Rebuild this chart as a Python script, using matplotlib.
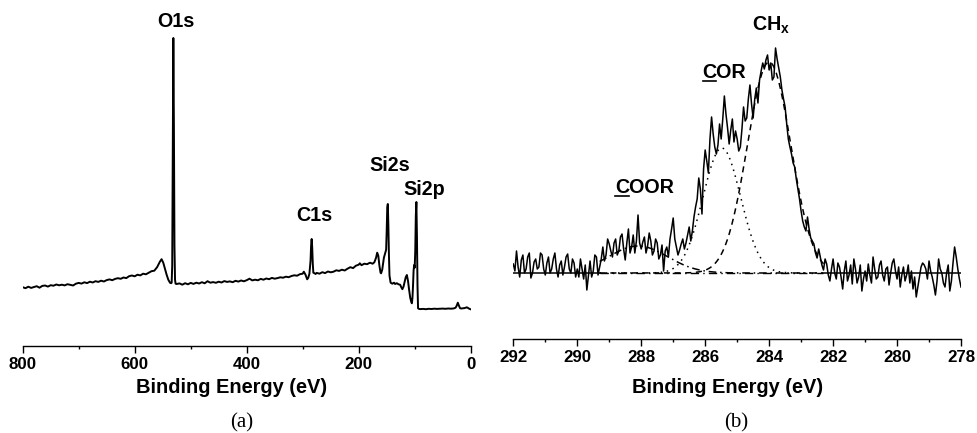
import matplotlib
matplotlib.use('Agg')
import matplotlib.pyplot as plt
import numpy as np
from matplotlib.lines import Line2D
from matplotlib.transforms import IdentityTransform
from matplotlib.font_manager import FontProperties
from matplotlib.ticker import MultipleLocator

plt.rcParams['font.family'] = ['Liberation Sans', 'DejaVu Sans']
plt.rcParams['mathtext.fontset'] = 'custom'
plt.rcParams['mathtext.rm'] = 'Liberation Sans:bold'
plt.rcParams['mathtext.it'] = 'Liberation Sans:bold'
plt.rcParams['mathtext.bf'] = 'Liberation Sans:bold'

# ---------------- (a) survey spectrum ----------------
survey_energy = [
    800, 795, 790, 785, 780, 775, 770, 765, 760, 755, 750, 745, 740, 735, 730, 725, 720, 715, 710, 705,
    700, 695, 690, 685, 680, 675, 670, 665, 660, 655, 650, 645, 640, 635, 630, 625, 620, 615, 610, 605,
    600, 595, 590, 585, 580, 575, 570, 565, 560, 555, 552, 549, 546, 543, 540, 537, 535, 534, 533, 532,
    531, 530, 529, 528, 527, 525,
    520, 515, 510, 505, 500, 495, 490, 485, 480, 475, 470, 465, 460, 455, 450, 445, 440, 435, 430, 425,
    420, 415, 410, 405, 400, 395, 390, 385, 380, 375, 370, 365, 360, 355, 350, 345, 340, 335, 330, 325,
    320, 315, 310, 305, 300, 298, 295, 292, 290, 288, 286, 285, 284, 283, 282, 281, 279, 277,
    275, 270, 265, 260, 255, 250, 245, 240, 235, 230, 225, 220, 215, 210, 205, 200, 198, 195, 190, 185,
    180, 175, 172, 169, 167, 165, 163, 161, 160, 158, 155, 153, 151, 150, 149, 148, 147, 146, 145, 143,
    140, 137, 135, 132, 129, 126, 124, 122, 120, 118, 116, 114, 112, 110, 108, 106, 105, 104, 103, 102,
    101, 100, 99, 98, 97, 96, 95, 94, 92,
    90, 85, 80, 75, 70, 65, 60, 55, 50, 45, 40, 35, 30, 27, 25, 23, 21, 19, 17, 14,
    11, 9, 7, 5.5, 4, 2, 0]
survey_counts = [
    58.5, 57.5, 59.0, 57.8, 58.6, 59.5, 58.0, 59.8, 60.2, 59.1, 60.5, 60.0, 61.2, 60.4, 61.0, 60.3, 61.5, 60.8, 60.2, 62.0,
    62.8, 62.1, 63.4, 62.6, 64.0, 63.2, 64.5, 63.8, 65.0, 64.2, 65.6, 66.3, 65.5, 66.8, 67.5, 66.9, 68.2, 67.6, 69.5, 70.2,
    69.4, 71.0, 70.3, 72.0, 71.4, 73.0, 74.5, 75.0, 78.5, 84.0, 86.5, 83.0, 77.0, 71.0, 66.0, 63.0, 62.5, 63.0, 80.0, 200.0,
    307.7, 220.0, 100.0, 66.0, 62.0, 61.7,
    62.3, 61.0, 62.5, 61.4, 62.8, 61.8, 63.0, 62.2, 63.5, 62.4, 64.5, 63.0, 63.6, 62.9, 64.0, 63.2, 64.6, 63.8, 64.3, 63.5,
    64.9, 64.1, 65.2, 64.4, 65.5, 67.0, 65.3, 66.0, 65.4, 66.8, 66.0, 67.2, 66.5, 67.8, 67.0, 67.6, 68.4, 68.0, 69.0, 68.5,
    69.7, 70.4, 70.0, 71.5, 72.0, 74.0, 71.0, 66.4, 68.0, 72.0, 85.0, 100.0, 106.7, 98.0, 82.0, 73.0, 72.5, 71.7,
    72.8, 72.0, 73.5, 72.6, 74.2, 73.4, 74.0, 75.4, 74.8, 76.0, 75.2, 77.0, 78.5, 77.6, 80.0, 81.0, 82.4, 80.5, 82.0, 81.5,
    83.0, 82.0, 83.5, 88.0, 93.0, 90.0, 80.0, 73.0, 72.4, 76.0, 88.0, 92.0, 96.0, 115.0, 138.0, 141.7, 120.0, 90.0, 70.0, 63.0,
    62.0, 63.0, 61.7, 62.5, 61.4, 61.0, 58.5, 56.5, 59.0, 64.0, 68.5, 70.7, 65.0, 56.0, 48.0, 43.5, 42.4, 48.0, 60.0, 75.0,
    80.7, 78.0, 95.0, 130.0, 143.7, 110.0, 60.0, 37.4, 36.7,
    36.6, 36.8, 36.5, 36.9, 36.7, 37.0, 36.8, 36.9, 37.1, 36.9, 37.2, 37.0, 37.3, 38.0, 40.0, 43.0, 40.0, 37.5, 37.2, 37.4,
    37.6, 38.0, 38.4, 38.0, 37.4, 36.8, 36.4]

survey_ticks = [800, 600, 400, 200, 0]
survey_labels = [('O1s', 526, 319), ('C1s', 280, 125), ('Si2s', 144, 175), ('Si2p', 83, 151)]

# ---------------- (b) C1s high-resolution spectrum ----------------
hr_start = 292.0
hr_step = 0.05
hr_counts = [
    75, 68, 88, 72, 62, 79, 84, 66, 70, 82, 86, 61, 66, 77, 80, 70, 72, 86, 84, 70,
    64, 76, 82, 66, 70, 80, 86, 70, 62, 74, 78, 64, 72, 82, 85, 70, 66, 80, 76, 62,
    70, 62, 80, 70, 60, 74, 49, 64, 78, 62, 68, 84, 82, 64, 72, 80, 92, 78, 84, 100,
    95, 88, 82, 96, 100, 84, 88, 102, 105, 90, 79, 96, 110, 86, 92, 104, 86, 98, 124, 96,
    90, 97, 102, 86, 93, 106, 98, 84, 88, 100, 96, 80, 84, 94, 68, 88, 92, 82, 100, 110,
    121, 100, 92, 84, 89, 95, 100, 90, 96, 104, 112, 98, 108, 122, 132, 140, 161, 150, 125, 170,
    189, 178, 166, 200, 222, 205, 192, 185, 194, 215, 200, 220, 243, 225, 211, 195, 209, 220, 197, 208,
    200, 188, 192, 210, 232, 218, 221, 240, 254, 235, 221, 240, 251, 236, 259, 268, 276, 270, 279, 284,
    269, 276, 259, 262, 291, 280, 271, 262, 249, 240, 232, 215, 200, 192, 185, 176, 172, 160, 150, 140,
    128, 118, 112, 108, 122, 110, 101, 98, 95, 86, 81, 90, 82, 74, 69, 80, 75, 64, 58, 70,
    80, 66, 60, 76, 72, 62, 50, 68, 78, 58, 64, 74, 55, 80, 70, 56, 62, 74, 48, 60,
    68, 58, 75, 64, 56, 82, 70, 60, 62, 74, 78, 64, 58, 70, 72, 54, 66, 76, 80, 68,
    60, 72, 52, 64, 72, 58, 64, 74, 56, 68, 50, 62, 42, 52, 62, 72, 76, 74, 70, 60,
    78, 68, 62, 54, 44, 58, 80, 70, 66, 56, 52, 66, 74, 48, 58, 76, 92, 82, 70, 60,
    52]
hr_baseline = 66
fit_range = (282.3, 289.3)
comp_names = ['COOR', 'COR', 'CHx']
comp_centers = [288.1, 285.48, 284.0]
comp_heights = [27, 125, 211]
comp_sigmas = [0.92, 0.59, 0.68]
comp_styles = [(0, (5, 2.5, 1, 2.5)), (0, (1, 3)), (0, (4, 3))]
hr_ticks = [292, 290, 288, 286, 284, 282, 280, 278]

# ---------------- figure ----------------
W, H = 977, 433
fig = plt.figure(figsize=(W / 100, H / 100), dpi=100)

def frac_box(x0, x1, ytop, ybot):
    return [x0 / W, (H - ybot) / H, (x1 - x0) / W, (ybot - ytop) / H]

axA = fig.add_axes(frac_box(22.7, 470.7, 5, 345.7))
axB = fig.add_axes(frac_box(513.3, 961.0, 5, 339.0))

tick_font = FontProperties(family='Liberation Sans', weight='bold', size=12.2)

for ax in (axA, axB):
    for s in ('left', 'right', 'top'):
        ax.spines[s].set_visible(False)
    ax.spines['bottom'].set_linewidth(1.0)
    ax.set_yticks([])
    ax.tick_params(axis='x', which='major', direction='out', length=5, width=1.0, pad=3)
    ax.tick_params(axis='x', which='minor', direction='out', length=2.5, width=1.0)
    ax.patch.set_alpha(0)

# panel a
axA.plot(survey_energy, survey_counts, color='black', lw=1.4)
axA.set_xlim(800, 0)
axA.set_ylim(0, 340.7)
axA.set_xticks(survey_ticks)
axA.xaxis.set_minor_locator(MultipleLocator(100))
for lab in axA.get_xticklabels():
    lab.set_fontproperties(tick_font)
for name, ex, ey in survey_labels:
    axA.text(ex, ey, name, ha='center', va='baseline', fontsize=14.2, fontweight='bold')

# panel b
hr_energy = np.array([hr_start - hr_step * i for i in range(len(hr_counts))])
hr_counts_arr = np.array(hr_counts, dtype=float)
axB.set_xlim(292, 278)
axB.set_ylim(0, 334)

lo, hi = fit_range
axB.plot([292, hi], [hr_baseline, hr_baseline], color='black', lw=1.1)
axB.plot([lo, 278], [hr_baseline, hr_baseline], color='black', lw=1.1)
axB.plot([hi, lo], [hr_baseline, hr_baseline], color='black', lw=1.0,
         linestyle=(0, (6, 3, 1, 3)))
xf = np.linspace(hi, lo, 400)
for c, h, s, ls in zip(comp_centers, comp_heights, comp_sigmas, comp_styles):
    yf = hr_baseline + h * np.exp(-(xf - c) ** 2 / (2 * s ** 2))
    axB.plot(xf, yf, color='black', lw=1.1, linestyle=ls)
axB.plot(hr_energy, hr_counts_arr, color='black', lw=1.1)

axB.set_xticks(hr_ticks)
axB.xaxis.set_minor_locator(MultipleLocator(1))
for lab in axB.get_xticklabels():
    lab.set_fontproperties(tick_font)

tCH = axB.text(284.53, 308, r'CH$_{\mathrm{x}}$', ha='left', va='baseline', fontsize=14.2, fontweight='bold')
tCOR = axB.text(285.41, 260.7, 'COR', ha='center', va='baseline', fontsize=14.2, fontweight='bold')
tCOOR = axB.text(287.90, 145.7, 'COOR', ha='center', va='baseline', fontsize=14.2, fontweight='bold')

fig.text(231.3 / W, (H - 393.3) / H, 'Binding Energy (eV)', ha='center', va='baseline',
         fontsize=14.4, fontweight='bold')
fig.text(727.5 / W, (H - 393.3) / H, 'Binding Energy (eV)', ha='center', va='baseline',
         fontsize=14.4, fontweight='bold')
fig.text(241.7 / W, (H - 427) / H, '(a)', ha='center', va='baseline', fontsize=15,
         family='Liberation Serif')
fig.text(736.3 / W, (H - 427) / H, '(b)', ha='center', va='baseline', fontsize=15,
         family='Liberation Serif')

# underline the first letter of COR / COOR
fig.canvas.draw()
renderer = fig.canvas.get_renderer()
fp = FontProperties(family='Liberation Sans', weight='bold', size=14.2)
wC, hC, dC = renderer.get_text_width_height_descent('C', fp, ismath=False)
_, _, d_lp = renderer.get_text_width_height_descent('lp', fp, ismath=False)
for t in (tCOR, tCOOR):
    bb = t.get_window_extent(renderer)
    base = bb.y0 + d_lp
    yline = base - 3.0
    fig.add_artist(Line2D([bb.x0 + 0.5, bb.x0 + wC - 0.5], [yline, yline], color='black',
                          lw=1.2, transform=IdentityTransform()))

fig.savefig('out.png', dpi=100)
